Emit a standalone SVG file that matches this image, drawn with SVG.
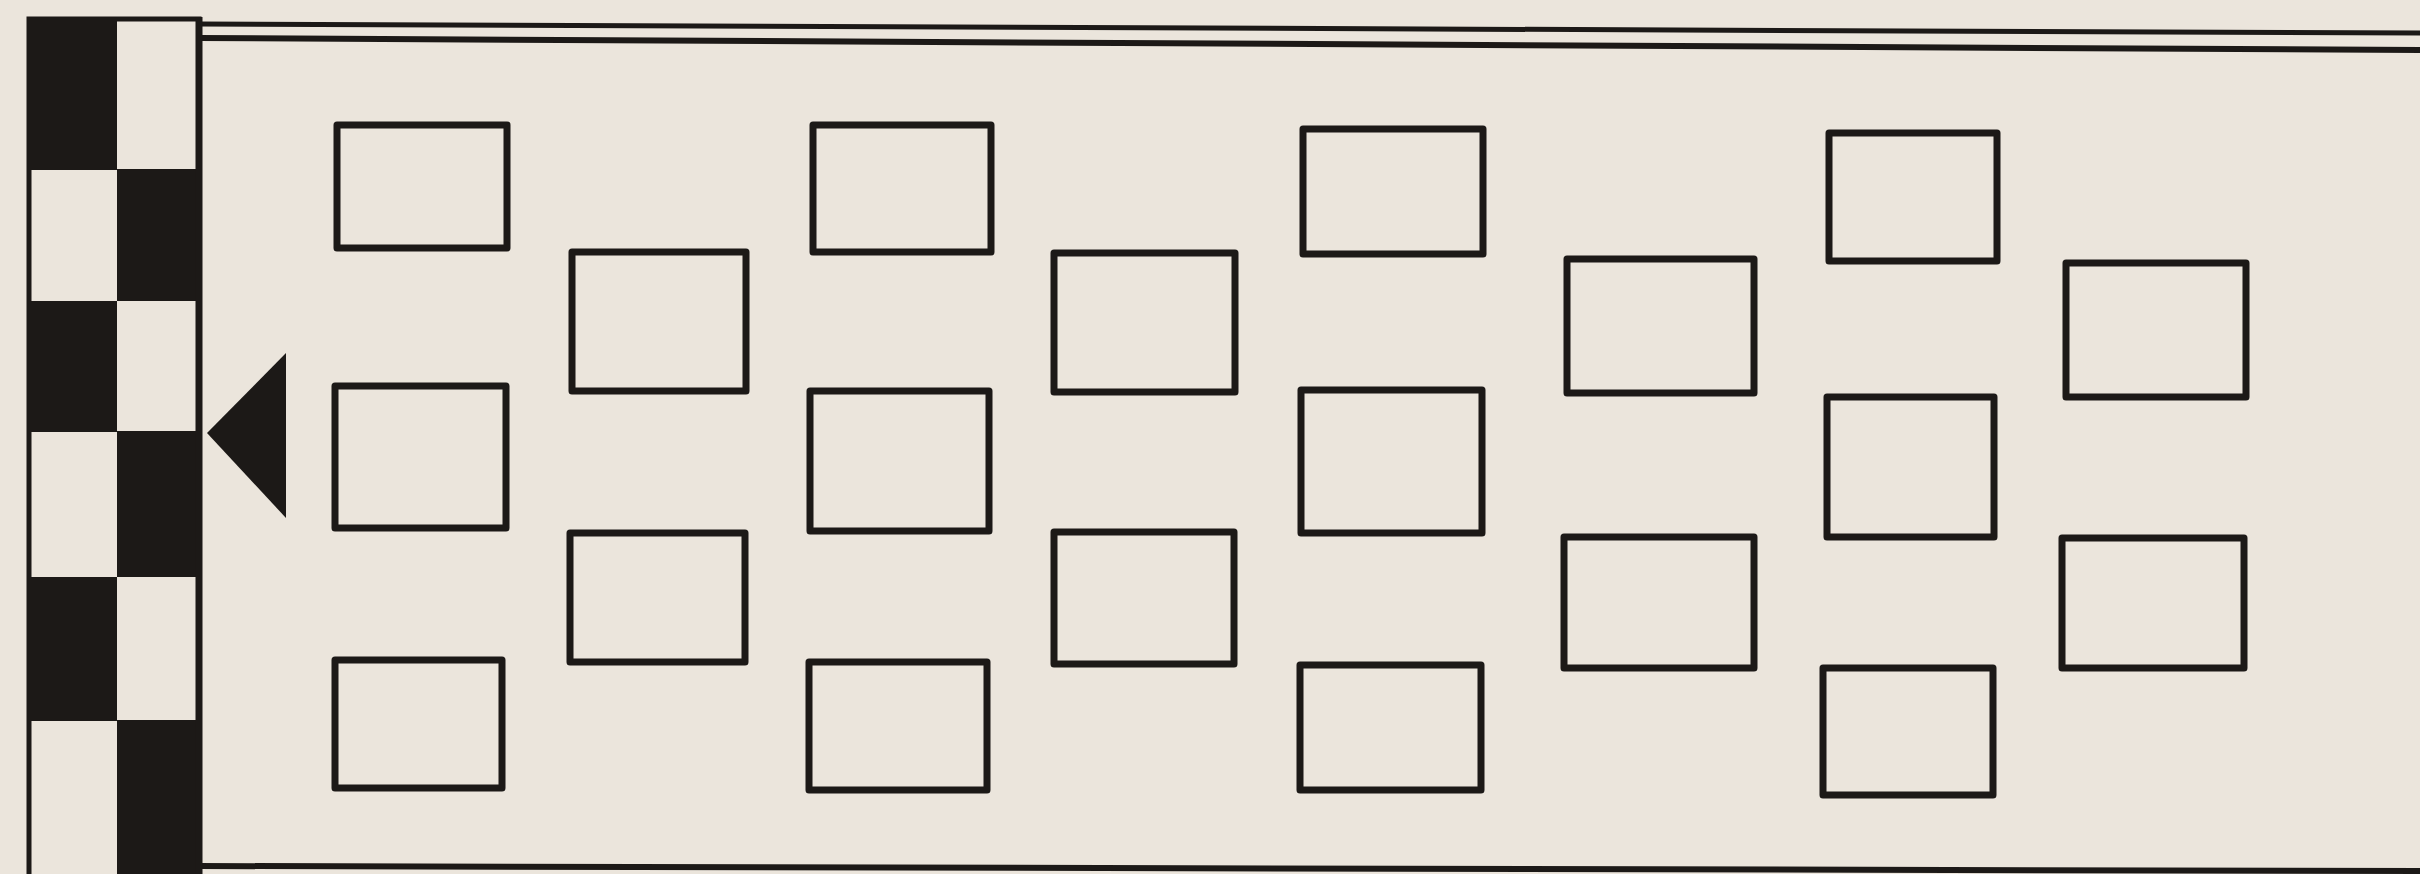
<svg xmlns="http://www.w3.org/2000/svg" width="2420" height="874" viewBox="0 0 2420 874">
<style>
.bg{fill:#ebe5dc}
.ink{fill:#1c1917}
.paper{fill:#ebe5dc;stroke:#1c1917;stroke-width:5}
.box{fill:#ebe5dc;stroke:#1c1917;stroke-width:7;stroke-linejoin:round}
.rule{stroke:#1c1917;fill:none}
</style>
<rect class="bg" x="0" y="0" width="2420" height="874"/>
<g id="frame">
  <line class="rule" x1="199" y1="24" x2="2420" y2="33" stroke-width="5"/>
  <line class="rule" x1="199" y1="38" x2="2420" y2="50" stroke-width="6"/>
  <line class="rule" x1="199" y1="866" x2="2420" y2="871" stroke-width="6"/>
</g>
<g id="checker">
  <rect class="paper" x="29" y="19" width="170" height="870"/>
  <rect class="ink" x="27" y="17" width="90" height="153"/>
  <rect class="ink" x="117" y="169" width="85" height="132"/>
  <rect class="ink" x="27" y="301" width="90" height="131"/>
  <rect class="ink" x="117" y="431" width="85" height="146"/>
  <rect class="ink" x="27" y="577" width="90" height="144"/>
  <rect class="ink" x="117" y="720" width="85" height="160"/>
  <line class="rule" x1="199" y1="17" x2="199" y2="874" stroke-width="7"/>
</g>
<g id="pointer">
  <polygon class="ink" points="207,433 286,353 286,518"/>
</g>
<g id="box-a1"><rect class="box" x="337" y="125" width="170" height="123"/></g>
<g id="box-b2"><rect class="box" x="572" y="252" width="174" height="139"/></g>
<g id="box-c1"><rect class="box" x="813" y="125" width="178" height="127"/></g>
<g id="box-d2"><rect class="box" x="1054" y="253" width="181" height="139"/></g>
<g id="box-e1"><rect class="box" x="1303" y="129" width="180" height="125"/></g>
<g id="box-f2"><rect class="box" x="1567" y="259" width="187" height="134"/></g>
<g id="box-g1"><rect class="box" x="1829" y="133" width="168" height="128"/></g>
<g id="box-h2"><rect class="box" x="2066" y="263" width="180" height="134"/></g>
<g id="box-a3"><rect class="box" x="335" y="386" width="171" height="142"/></g>
<g id="box-b4"><rect class="box" x="570" y="533" width="175" height="129"/></g>
<g id="box-c3"><rect class="box" x="810" y="391" width="179" height="140"/></g>
<g id="box-d4"><rect class="box" x="1054" y="532" width="180" height="132"/></g>
<g id="box-e3"><rect class="box" x="1301" y="390" width="181" height="143"/></g>
<g id="box-f4"><rect class="box" x="1564" y="537" width="190" height="131"/></g>
<g id="box-g3"><rect class="box" x="1827" y="397" width="167" height="140"/></g>
<g id="box-h4"><rect class="box" x="2062" y="538" width="182" height="130"/></g>
<g id="box-a5"><rect class="box" x="335" y="660" width="167" height="128"/></g>
<g id="box-c5"><rect class="box" x="809" y="662" width="178" height="128"/></g>
<g id="box-e5"><rect class="box" x="1300" y="665" width="181" height="125"/></g>
<g id="box-g5"><rect class="box" x="1823" y="668" width="170" height="127"/></g>
</svg>
